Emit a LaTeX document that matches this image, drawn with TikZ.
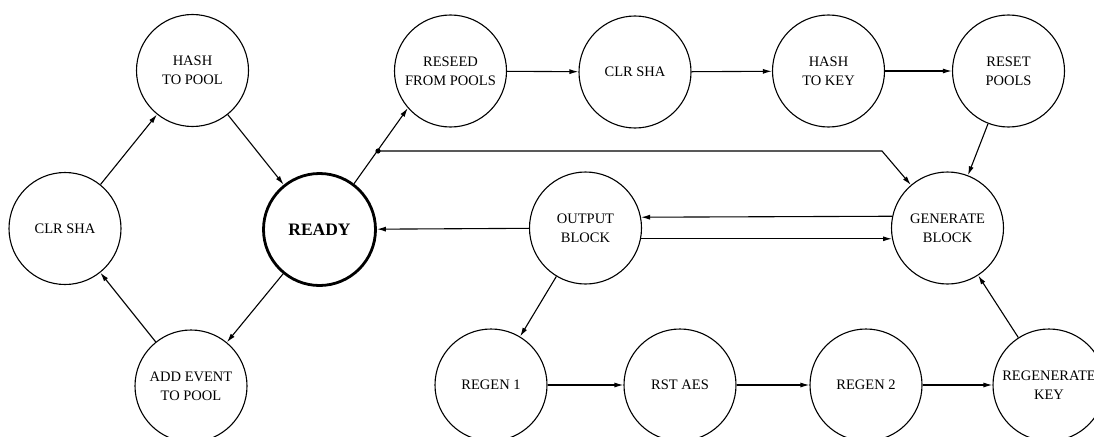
\documentclass[tikz,border=0pt]{standalone}
\usepackage{fontspec}
\setmainfont{Liberation Serif}
\usetikzlibrary{arrows.meta}
\begin{document}
\begin{tikzpicture}[x=1pt,y=-1pt,
  st/.style={circle,draw,line width=1.1pt,minimum size=112pt,inner sep=0pt,align=center,
    font=\fontsize{14.5}{19}\selectfont},
  rdy/.style={st,line width=2.8pt,font=\fontsize{17.5}{21}\selectfont\bfseries},
  arr/.style={line width=1.1pt,-{Latex[length=9pt,width=5pt]}},
  ln/.style={line width=1.1pt}]
\useasboundingbox (0,0) rectangle (1094,436);
\clip (0,0) rectangle (1094,436);
\node[st] (htp) at (192.5,70.5) {HASH\\TO POOL};
\node[st] (clrl) at (65,228.5) {CLR SHA};
\node[rdy] (ready) at (319.5,229.5) {READY};
\node[st] (add) at (191,386) {ADD EVENT\\TO POOL};
\node[st] (reseed) at (450.5,71) {RESEED\\FROM POOLS};
\node[st] (clrt) at (635,72) {CLR SHA};
\node[st] (htk) at (828.5,71) {HASH\\TO KEY};
\node[st] (reset) at (1008.5,71) {RESET\\POOLS};
\node[st] (gen) at (947.5,228) {GENERATE\\BLOCK};
\node[st] (out) at (585.5,228) {OUTPUT\\BLOCK};
\node[st] (r1) at (491,385) {REGEN 1};
\node[st] (rst) at (680,385) {RST AES};
\node[st] (r2) at (866,385) {REGEN 2};
\node[st] (rk) at (1049,385) {REGENERATE\\KEY};
\coordinate (dot) at (378,151);
\coordinate (bend) at (882,151);
\draw[arr] (clrl) -- (htp);
\draw[arr] (htp) -- (ready);
\draw[arr] (ready) -- (add);
\draw[arr] (add) -- (clrl);
\draw[arr] (ready.53) -- (reseed.221);
\fill (dot) circle (2.6pt);
\draw[arr] (dot) -- (bend) -- (gen);
\draw[arr] (reseed) -- (clrt);
\draw[arr] (clrt) -- (htk);
\draw[arr] (htk) -- (reset);
\draw[arr] (reset) -- (gen);
\draw[arr] (gen.168.7) -- (out.11.3);
\draw[arr] (out.-11.3) -- (gen.191.3);
\draw[arr] (out) -- (ready);
\draw[arr] (out) -- (r1);
\draw[arr] (r1) -- (rst);
\draw[arr] (rst) -- (r2);
\draw[arr] (r2) -- (rk);
\draw[arr] (rk) -- (gen);
\end{tikzpicture}
\end{document}
